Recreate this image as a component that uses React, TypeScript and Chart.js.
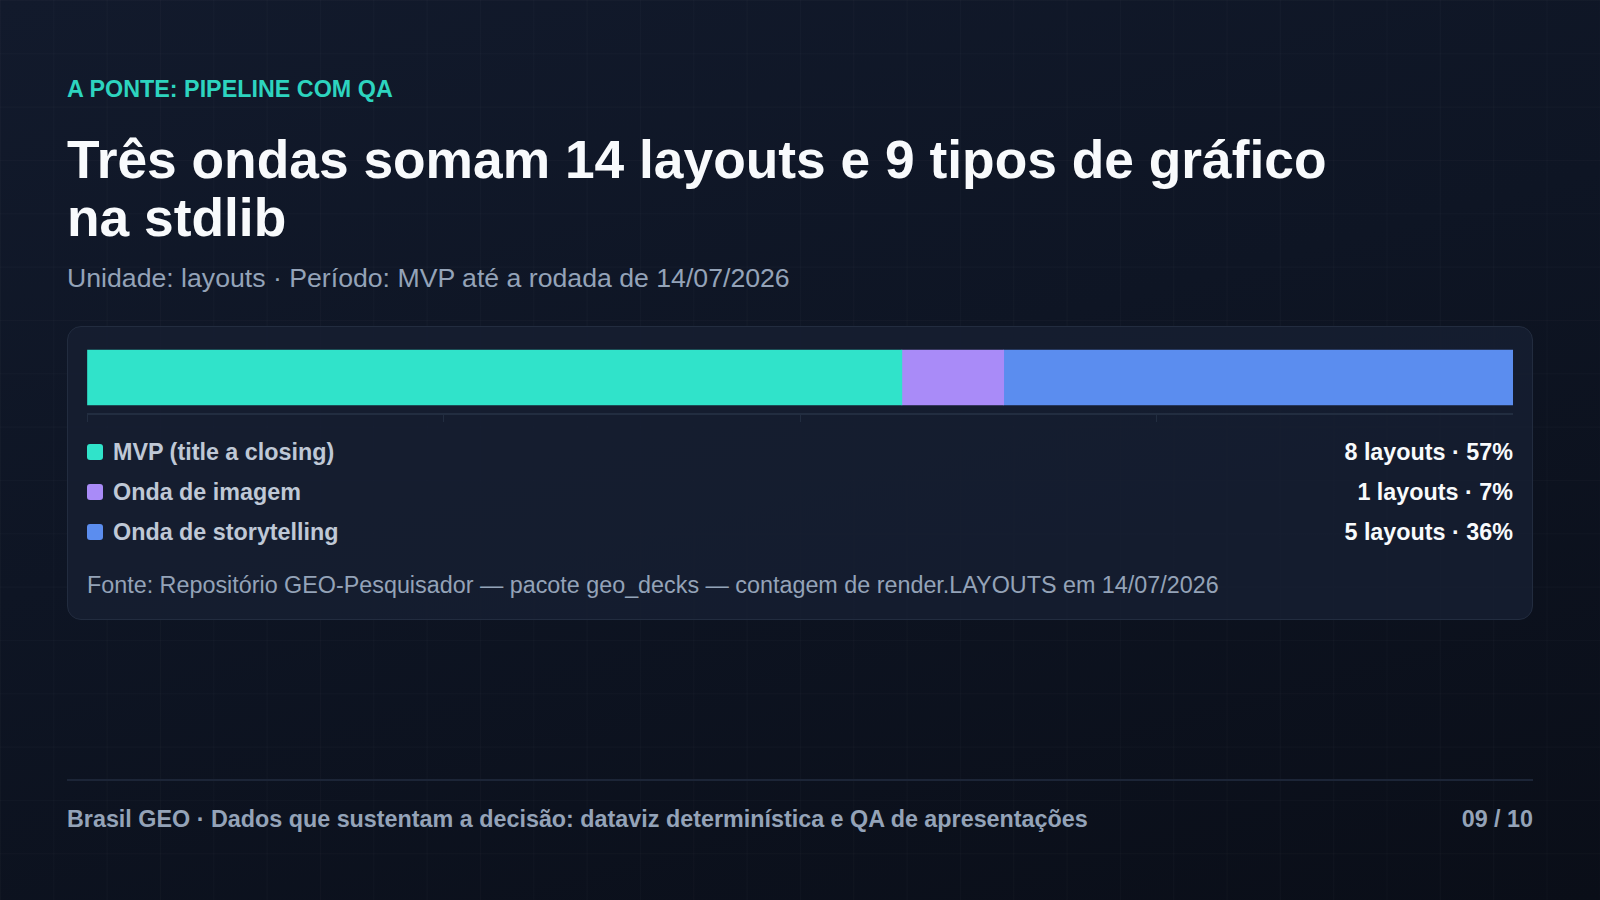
import React, { useEffect, useRef } from "react";
import { Chart, registerables } from "chart.js";

Chart.register(...registerables);

// ---- data ----
const categories = ["MVP (title a closing)", "Onda de imagem", "Onda de storytelling"];
const layoutCounts = [8, 1, 5];
const seriesColors = ["#30e3ca", "#a98bf8", "#5b8def"];
const kicker = "A PONTE: PIPELINE COM QA";
const title = "Três ondas somam 14 layouts e 9 tipos de gráfico na stdlib";
const subtitle = "Unidade: layouts · Período: MVP até a rodada de 14/07/2026";
const sourceText =
  "Fonte: Repositório GEO-Pesquisador — pacote geo_decks — contagem de render.LAYOUTS em 14/07/2026";
const footerLeft = "Brasil GEO · Dados que sustentam a decisão: dataviz determinística e QA de apresentações";
const footerRight = "09 / 10";

const FONT = "'Liberation Sans', Arial, Helvetica, sans-serif";
const SMALL = 23.33;

export default function App() {
  const canvasRef = useRef<HTMLCanvasElement | null>(null);
  const total = layoutCounts.reduce((a, b) => a + b, 0);

  useEffect(() => {
    if (!canvasRef.current) return;
    const chart = new Chart(canvasRef.current, {
      type: "bar",
      data: {
        labels: ["layouts"],
        datasets: categories.map((c, i) => ({
          label: c,
          data: [layoutCounts[i]],
          backgroundColor: seriesColors[i],
          borderWidth: 0,
          barThickness: 55,
        })),
      },
      options: {
        indexAxis: "y",
        animation: false,
        responsive: false,
        maintainAspectRatio: false,
        layout: { padding: 0 },
        plugins: { legend: { display: false }, tooltip: { enabled: false } },
        scales: {
          x: {
            stacked: true,
            min: 0,
            max: total,
            ticks: { display: false, stepSize: total / 4 },
            grid: {
              drawOnChartArea: false,
              drawTicks: true,
              tickLength: 8,
              color: "#222d40",
              lineWidth: 1,
            },
            border: { display: true, color: "#222d40", width: 2 },
          },
          y: {
            stacked: true,
            display: false,
          },
        },
      },
    });
    return () => chart.destroy();
  }, []);

  const pct = (v: number) => Math.round((v / total) * 100);

  return (
    <div
      style={{
        position: "absolute",
        left: 0,
        top: 0,
        width: 1600,
        height: 900,
        overflow: "hidden",
        fontFamily: FONT,
        background: "linear-gradient(165deg, #121a2c 0%, #0e1524 45%, #0a0e18 100%)",
      }}
    >
      <div
        style={{
          position: "absolute",
          inset: 0,
          backgroundImage:
            "linear-gradient(rgba(255,255,255,0.018) 1px, transparent 1px), linear-gradient(90deg, rgba(255,255,255,0.018) 1px, transparent 1px)",
          backgroundSize: "53.33px 53.33px",
        }}
      />
      <div
        style={{
          position: "absolute",
          left: 67,
          top: 78,
          fontSize: SMALL,
          lineHeight: `${SMALL}px`,
          fontWeight: 700,
          color: "#2dd4bf",
          whiteSpace: "nowrap",
        }}
      >
        {kicker}
      </div>
      <div
        style={{
          position: "absolute",
          left: 67,
          top: 130.5,
          width: 1320,
          fontSize: 53.33,
          lineHeight: "58.5px",
          fontWeight: 700,
          color: "#f8fafc",
        }}
      >
        {title}
      </div>
      <div
        style={{
          position: "absolute",
          left: 67,
          top: 262.5,
          fontSize: 26.67,
          lineHeight: "30px",
          color: "#94a3b8",
          whiteSpace: "nowrap",
        }}
      >
        {subtitle}
      </div>

      <div
        style={{
          position: "absolute",
          left: 67,
          top: 326,
          width: 1466,
          height: 294,
          boxSizing: "border-box",
          border: "1px solid #222c3f",
          borderRadius: 14,
          background: "rgba(22, 31, 49, 0.85)",
        }}
      />
      <div style={{ position: "absolute", left: 87, top: 341, width: 1426, height: 81 }}>
        <canvas ref={canvasRef} width={1426} height={81} style={{ display: "block", width: 1426, height: 81 }} />
      </div>

      {categories.map((c, i) => (
        <div
          key={c}
          style={{
            position: "absolute",
            left: 87,
            width: 1426,
            top: 432 + i * 40,
            height: 40,
            display: "flex",
            alignItems: "center",
            fontSize: SMALL,
            fontWeight: 700,
          }}
        >
          <span
            style={{
              width: 16,
              height: 16,
              borderRadius: 3,
              background: seriesColors[i],
              marginRight: 10,
              flex: "none",
            }}
          />
          <span style={{ color: "#bfc8d6", flex: 1, whiteSpace: "nowrap" }}>{c}</span>
          <span style={{ color: "#f8fafc", whiteSpace: "nowrap" }}>
            {layoutCounts[i]} layouts · {pct(layoutCounts[i])}%
          </span>
        </div>
      ))}

      <div
        style={{
          position: "absolute",
          left: 87,
          top: 574,
          fontSize: SMALL,
          lineHeight: `${SMALL}px`,
          color: "#94a3b8",
          whiteSpace: "nowrap",
        }}
      >
        {sourceText}
      </div>

      <div style={{ position: "absolute", left: 67, top: 779, width: 1466, height: 2, background: "#1c2537" }} />
      <div
        style={{
          position: "absolute",
          left: 67,
          width: 1466,
          top: 808,
          fontSize: SMALL,
          lineHeight: `${SMALL}px`,
          fontWeight: 700,
          color: "#94a3b8",
          display: "flex",
          justifyContent: "space-between",
          whiteSpace: "nowrap",
        }}
      >
        <span>{footerLeft}</span>
        <span>{footerRight}</span>
      </div>
    </div>
  );
}
